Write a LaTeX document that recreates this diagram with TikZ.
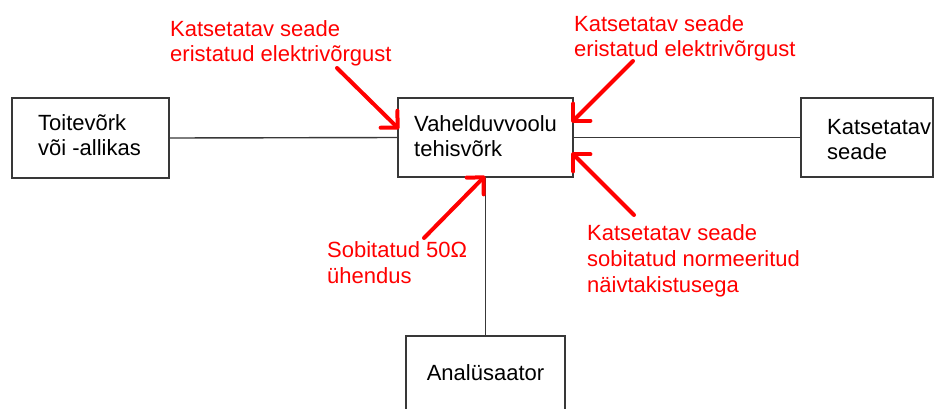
\documentclass[tikz,border=0pt]{standalone}
\usepackage{fontspec}
\setmainfont{Liberation Sans}
\usetikzlibrary{arrows.meta}
\definecolor{boxline}{gray}{0.22}
\definecolor{annred}{RGB}{255,0,0}
\begin{document}
\begin{tikzpicture}[x=1pt,y=-1pt,
  blk/.style n args={2}{draw=boxline, line width=1.4pt, minimum width=#1, minimum height=#2, inner sep=0pt},
  txt/.style={anchor=base west, inner sep=0pt, align=left, font=\fontsize{22}{25}\selectfont, text=black},
  note/.style={txt, text=annred},
  pointer/.style={draw=annred, line width=4pt, line cap=round, line join=round,
    -{Straight Barb[length=12pt,width=24pt,line cap=round,line join=round]}},
  wire/.style={draw=boxline, line width=1.4pt}
]
\useasboundingbox (0,0) rectangle (948,408);
\clip (0,0) rectangle (948,408);
\fill[white] (0,0) rectangle (948,408);

% boxes
\node[blk={157pt}{80pt}] (b1) at (90.5,138) {};
\node[blk={175pt}{79pt}] (b2) at (485.5,137.5) {};
\node[blk={132pt}{79pt}] (b3) at (867,137.5) {};
\node[blk={159pt}{94pt}] (b4) at (485.5,383) {};

% box texts (anchor = baseline of last line)
\node[txt] (t1) at (38,155) {Toitevõrk\\või -allikas};
\node[txt] (t2) at (414,156) {Vahelduvvoolu\\tehisvõrk};
\node[txt] (t3) at (827,159) {Katsetatav\\seade};
\node[txt, anchor=base] (t4) at (485.5,380) {Analüsaator};

% wires
\draw[wire] (b1.east) -- (b2.west);
\draw[wire] (b2.east) -- (b3.west);
\draw[wire] (b2.south) -- (b4.north);

% notes
\node[note] (n1) at (170,61) {Katsetatav seade\\eristatud elektrivõrgust};
\node[note] (n2) at (574,56) {Katsetatav seade\\eristatud elektrivõrgust};
\node[note, font=\fontsize{22}{26}\selectfont] (n3) at (587,292) {Katsetatav seade\\sobitatud normeeritud\\näivtakistusega};
\node[note, font=\fontsize{22}{26}\selectfont] (n4) at (327,283) {Sobitatud 50Ω\\ühendus};

% pointer coordinates
\coordinate (p1s) at (337,68);  \coordinate (p1e) at (399,129);
\coordinate (p2s) at (633,61);  \coordinate (p2e) at (572,122);
\coordinate (p3s) at (634,215); \coordinate (p3e) at (572,153);
\coordinate (p4s) at (424,238); \coordinate (p4e) at (485,176);

\draw[pointer] (p1s) -- (p1e);
\draw[pointer] (p2s) -- (p2e);
\draw[pointer] (p3s) -- (p3e);
\draw[pointer] (p4s) -- (p4e);
\end{tikzpicture}
\end{document}
